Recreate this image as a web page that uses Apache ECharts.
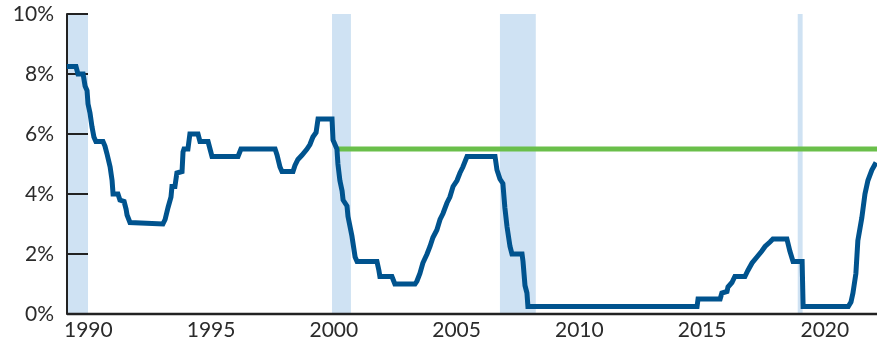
<!DOCTYPE html>
<html>
<head>
<meta charset="utf-8">
<script src="https://cdn.jsdelivr.net/npm/echarts@6/dist/echarts.min.js"></script>
<style>html,body{margin:0;padding:0;background:#fff}#c{width:877px;height:343px}</style>
</head>
<body>
<div id="c"></div>
<script>
// Policy rate (percent) by fractional year
const rateYears = [1990.20,1990.57,1990.65,1990.86,1990.94,1991.02,1991.06,1991.14,1991.22,1991.30,1991.38,1991.67,1991.75,1991.83,1991.96,1992.04,1992.08,1992.28,1992.36,1992.53,1992.61,1992.65,1992.77,1992.85,1994.11,1994.20,1994.32,1994.44,1994.48,1994.60,1994.68,1994.73,1994.89,1994.93,1994.97,1995.13,1995.21,1995.54,1995.62,1995.95,1996.03,1996.11,1997.17,1997.29,1998.68,1998.76,1998.88,1998.96,1999.41,1999.49,1999.61,1999.78,1999.98,2000.10,2000.22,2000.35,2000.43,2001.00,2001.04,2001.20,2001.24,2001.32,2001.41,2001.45,2001.61,2001.65,2001.81,2001.94,2002.02,2002.83,2002.91,2002.95,2003.44,2003.56,2004.38,2004.46,2004.58,2004.70,2004.87,2004.99,2005.11,2005.27,2005.40,2005.52,2005.68,2005.80,2005.93,2006.09,2006.21,2006.33,2006.50,2007.64,2007.72,2007.84,2007.96,2008.04,2008.13,2008.25,2008.33,2008.74,2008.78,2008.86,2008.94,2008.98,2015.87,2015.91,2016.81,2016.88,2016.92,2017.09,2017.13,2017.29,2017.41,2017.82,2017.94,2018.11,2018.31,2018.51,2018.64,2018.84,2018.96,2019.53,2019.65,2019.78,2020.15,2020.19,2022.03,2022.14,2022.22,2022.34,2022.42,2022.58,2022.71,2022.83,2022.99,2023.16];
const rateValues = [8.25,8.25,8.0,8.0,7.6,7.45,7.0,6.7,6.25,5.9,5.75,5.75,5.6,5.35,4.9,4.45,4.0,4.0,3.8,3.75,3.5,3.3,3.05,3.0,3.0,3.15,3.55,3.9,4.25,4.25,4.7,4.75,4.75,5.4,5.5,5.5,6.0,6.0,5.75,5.75,5.5,5.25,5.25,5.5,5.5,5.3,4.9,4.75,4.75,4.95,5.15,5.3,5.5,5.65,5.9,6.05,6.5,6.5,5.8,5.5,5.0,4.45,4.1,3.8,3.6,3.25,2.6,1.9,1.75,1.75,1.45,1.25,1.25,1.0,1.0,1.1,1.35,1.7,2.0,2.25,2.55,2.8,3.15,3.35,3.7,3.9,4.25,4.45,4.7,4.9,5.25,5.25,4.8,4.5,4.35,3.55,2.9,2.25,2.0,2.0,1.75,0.95,0.7,0.25,0.25,0.5,0.5,0.7,0.75,0.75,0.9,1.05,1.25,1.25,1.45,1.7,1.9,2.1,2.25,2.4,2.5,2.5,2.1,1.75,1.75,0.25,0.25,0.4,0.7,1.35,2.45,3.2,4.0,4.45,4.8,5.05];
// Reference (green) level
const refYears = [2001.2, 2023.2];
const refValues = [5.5, 5.5];
// Recession periods
const recessionStarts = [1990.2, 2001.0, 2007.84, 2019.97];
const recessionEnds = [1991.06, 2001.77, 2009.3, 2020.17];
// Axis
const xMin = 1990, xMax = 2023.2, plotStart = 1990.2;
const xTickYears = [1990, 1995, 2000, 2005, 2010, 2015, 2020];
const yTicks = [0, 2, 4, 6, 8, 10];

const FONT = 'Lato, "Noto Sans", sans-serif';
const chart = echarts.init(document.getElementById('c'), null, {renderer: 'canvas'});
chart.setOption({
  animation: false,
  grid: {left: 62, right: 0, top: 14, bottom: 29, containLabel: false},
  xAxis: {
    type: 'value', min: xMin, max: xMax,
    axisLine: {show: false}, axisTick: {show: false}, splitLine: {show: false},
    axisLabel: {
      customValues: xTickYears,
      formatter: v => String(Math.round(v)),
      align: 'left', margin: 6, fontSize: 21, color: '#2b2b2b', fontFamily: FONT,
      padding: [0, 0, 0, 2]
    }
  },
  yAxis: {
    type: 'value', min: 0, max: 10, interval: 2, offset: -5, z: 5,
    axisLine: {show: true, lineStyle: {color: '#222', width: 2}},
    axisTick: {show: true, inside: true, length: 21, lineStyle: {color: '#222', width: 2}},
    splitLine: {show: false},
    axisLabel: {formatter: '{value}%', fontSize: 21, color: '#2b2b2b', fontFamily: FONT, margin: 13, padding: [8, 0, 0, 0]}
  },
  series: [
    {
      type: 'line', name: 'recessions', data: [], silent: true,
      markArea: {
        silent: true,
        itemStyle: {color: '#cfe2f3'},
        data: recessionStarts.map((s, i) => [{xAxis: s}, {xAxis: recessionEnds[i]}])
      }
    },
    {
      type: 'line', name: 'baseline', silent: true, clip: false, symbol: 'none', z: 3,
      data: [[plotStart, 0], [xMax, 0]],
      lineStyle: {color: '#222', width: 2.5}
    },
    {
      type: 'line', name: 'reference', silent: true, symbol: 'none', z: 4,
      data: refYears.map((y, i) => [y, refValues[i]]),
      lineStyle: {color: '#6abf4a', width: 5}
    },
    {
      type: 'line', name: 'rate', silent: true, symbol: 'none', z: 6, clip: false,
      data: rateYears.map((y, i) => [y, rateValues[i]]),
      lineStyle: {color: '#00538e', width: 5, join: 'miter'}
    }
  ]
});
</script>
</body>
</html>
